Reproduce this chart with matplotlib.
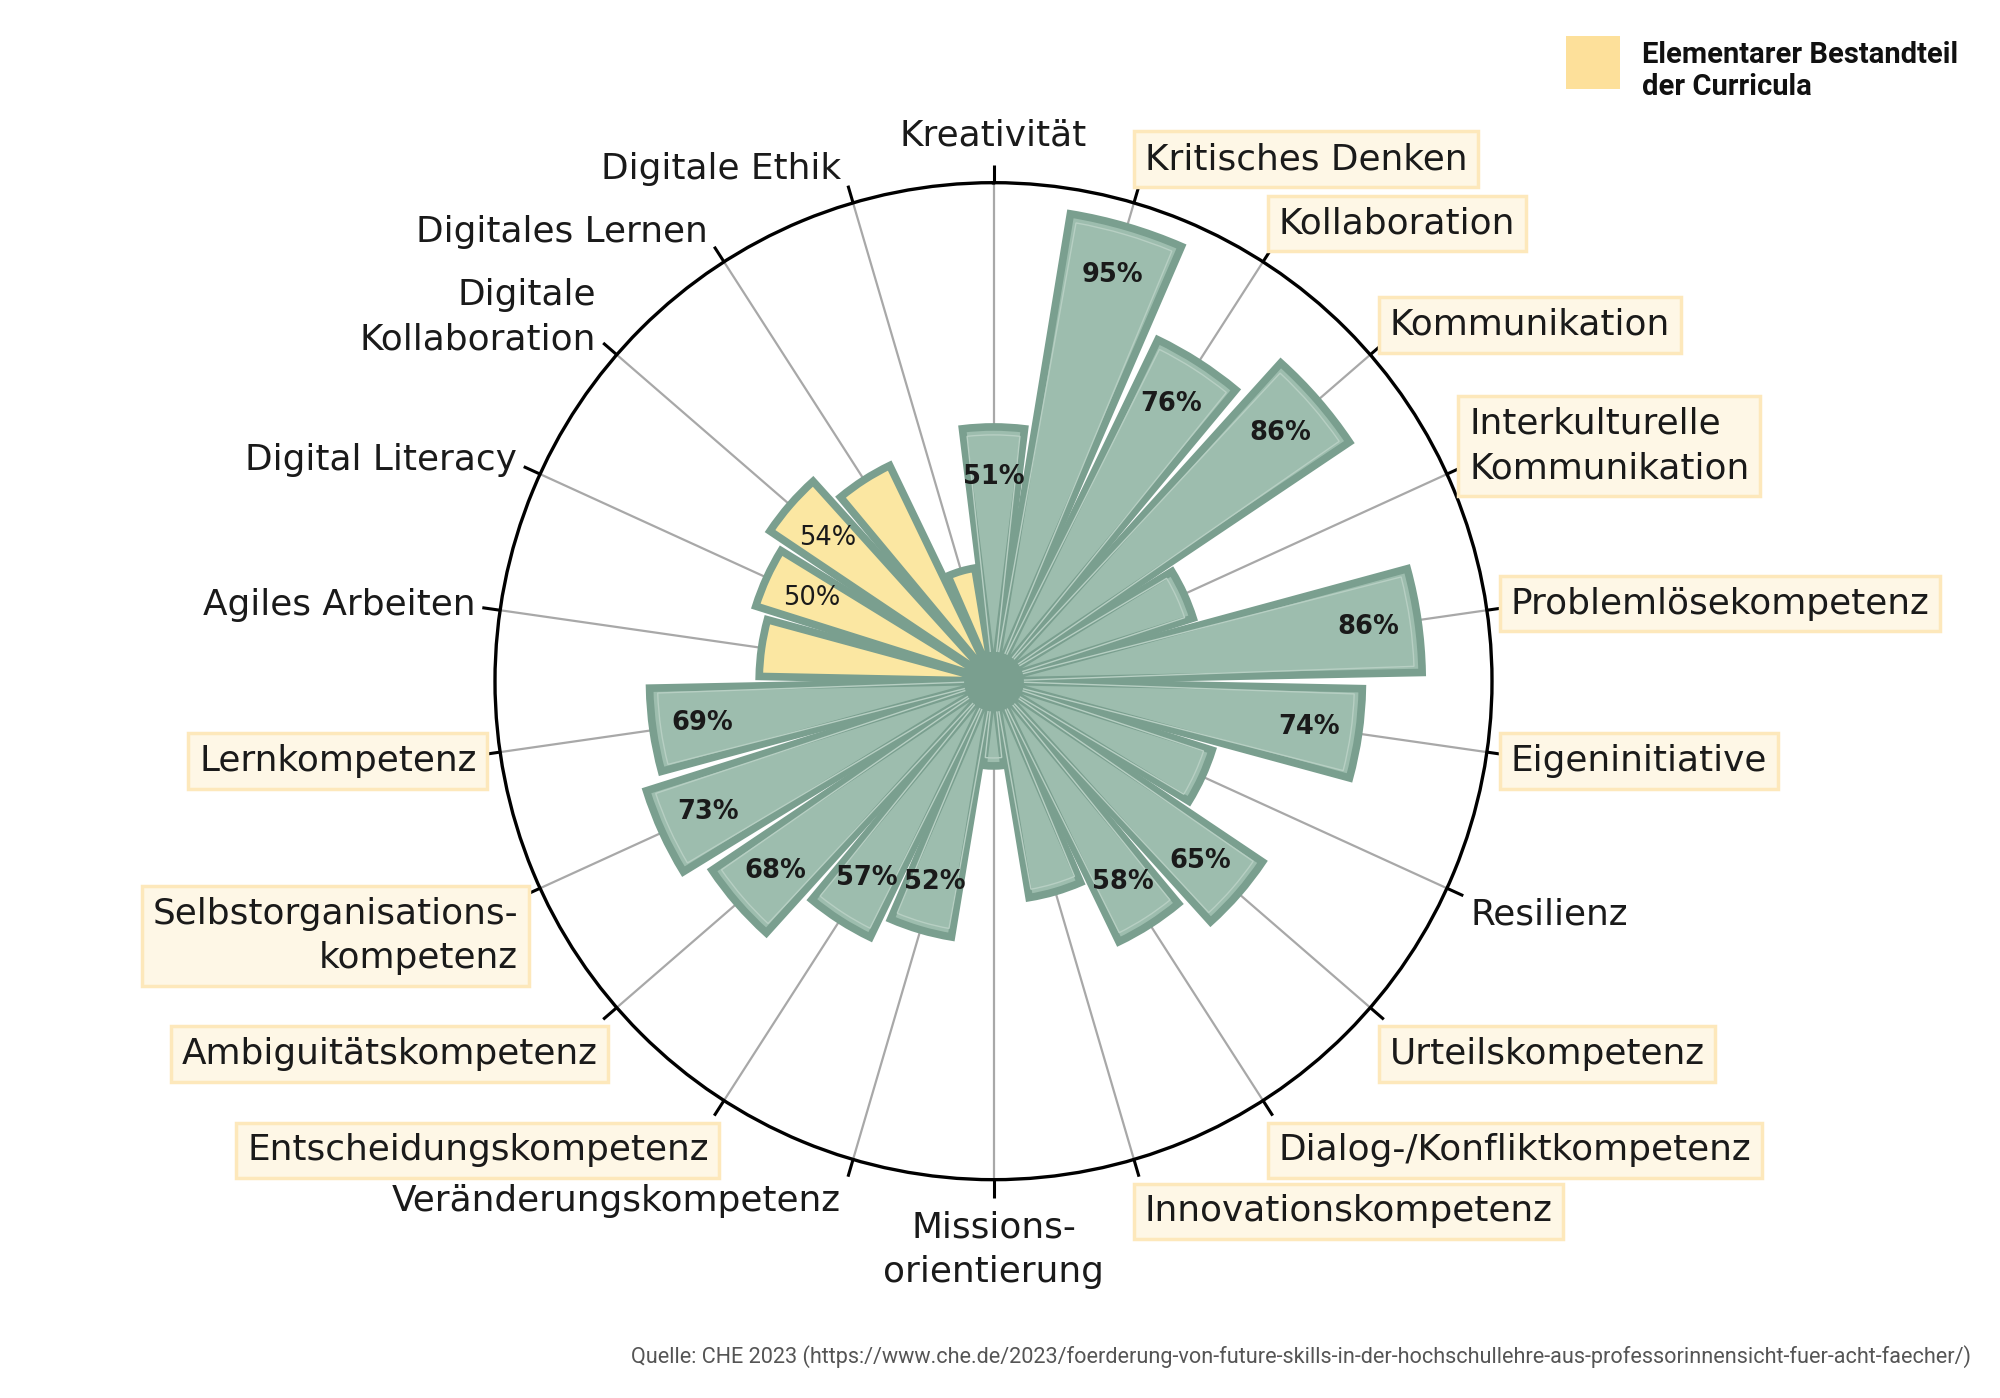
import numpy as np
import matplotlib
matplotlib.use("Agg")
import matplotlib.pyplot as plt
from matplotlib.patches import Rectangle

# ---------------- data ----------------
categories = [
    "Kreativität", "Kritisches Denken", "Kollaboration", "Kommunikation",
    "Interkulturelle\nKommunikation", "Problemlösekompetenz", "Eigeninitiative",
    "Resilienz", "Urteilskompetenz", "Dialog-/Konfliktkompetenz",
    "Innovationskompetenz", "Missions-\norientierung", "Veränderungskompetenz",
    "Entscheidungskompetenz", "Ambiguitätskompetenz",
    "Selbstorganisations-\nkompetenz", "Lernkompetenz", "Agiles Arbeiten",
    "Digital Literacy", "Digitale\nKollaboration", "Digitales Lernen",
    "Digitale Ethik",
]
values = [51, 95, 76, 86, 42, 86, 74, 46, 65, 58, 44, 17, 52, 57, 68, 73, 69,
          47, 50, 54, 48, 23]
# label highlighted as "Elementarer Bestandteil der Curricula"
curricula = [False, True, True, True, True, True, True, False, True, True,
             True, False, False, True, True, True, True, False, False, False,
             False, False]
# digital skills (yellow bars)
digital = [False] * 17 + [True] * 5

legend_lines = ["Elementarer Bestandteil", "der Curricula"]
source_text = ("Quelle: CHE 2023 (https://www.che.de/2023/foerderung-von-future-skills-"
               "in-der-hochschullehre-aus-professorinnensicht-fuer-acht-faecher/)")

# ---------------- styles ----------------
GREEN = "#9dbdae"
EDGE = "#7a9f8f"
YELLOW = "#fbe7a2"
BOX_FC = "#fef7e6"
BOX_EC = "#fde8bb"
LEG_YELLOW = "#fde09a"
TXT = "#1a1a1a"
DPI = 100

fig = plt.figure(figsize=(20, 13.98), dpi=DPI)
fig.patch.set_facecolor("white")
ax = fig.add_axes([0.2475, 0.156, 0.4985, 0.7135], projection="polar")
ax.set_theta_zero_location("N")
ax.set_theta_direction(-1)
ax.set_ylim(0, 100)
ax.set_xticks([])
ax.set_yticks([])
ax.grid(False)
ax.spines["polar"].set_linewidth(2.4)
ax.spines["polar"].set_color("black")

n = len(categories)
theta = np.arange(n) * 2 * np.pi / n

# grey radial lines
for t in theta:
    ax.plot([t, t], [0, 100], color="#a8a8a8", lw=1.6, zorder=1)

# bars
fills = [YELLOW if d else GREEN for d in digital]
bars = ax.bar(theta, values, width=0.245, bottom=0, color=fills,
              edgecolor=EDGE, linewidth=5.5, zorder=3)
for b in bars:
    b.set_joinstyle("miter")

# inner light highlight on green bars
for t, v, d in zip(theta, values, digital):
    if not d:
        hb = ax.bar(t, v - 1.6, width=0.215, bottom=0, color="none",
                    edgecolor="#b7cfc3", linewidth=1.0, zorder=4)
        hb[0].set_joinstyle("miter")

# hub
hub_t = np.linspace(0, 2 * np.pi, 200)
ax.fill_between(hub_t, 0, 6.0, color=EDGE, zorder=5, lw=0)

# percentage labels
for t, v, d in zip(theta, values, digital):
    if v >= 50:
        ax.text(t, v - 10, f"{v}%", ha="center", va="center", fontsize=18.5,
                fontweight="normal" if d else "bold", color=TXT,
                family="DejaVu Sans", zorder=6)

# black ticks outside circle + category labels
R_TICK = 103.6
anns = []
for t, cat, boxed in zip(theta, categories, curricula):
    ax.plot([t, t], [100, R_TICK], color="black", lw=2.2, clip_on=False,
            solid_capstyle="butt", zorder=6)
    s = np.sin(t)
    if abs(s) < 0.05:
        ha = "center"
    elif s > 0:
        ha = "left"
    else:
        ha = "right"
    kw = {}
    if boxed:
        kw["bbox"] = dict(boxstyle="square,pad=0.3", fc=BOX_FC, ec=BOX_EC, lw=2.5)
    a = ax.annotate(cat, xy=(t, R_TICK), xytext=(0, 0), textcoords="offset points",
                    ha=ha, va="bottom", multialignment=ha, fontsize=25.8, color=TXT,
                    family="DejaVu Sans", linespacing=1.38, annotation_clip=False,
                    zorder=7, **kw)
    anns.append((a, t, boxed, ha))

# second pass: position label boxes relative to the tick ends
fig.canvas.draw()
renderer = fig.canvas.get_renderer()
for a, t, boxed, ha in anns:
    c = np.cos(t)
    if c >= 0:
        f = (1 - c) / 2
    else:
        f = min(1.0, 0.5 - 0.8 * c)
    ext = (a.get_bbox_patch().get_window_extent(renderer) if boxed
           else a.get_window_extent(renderer))
    ax_px, ay_px = ax.transData.transform((t, R_TICK))
    gap = -5 if boxed else 7
    if ha == "left":
        sx = (ax_px + gap) - ext.x0
    elif ha == "right":
        sx = (ax_px - gap) - ext.x1
    else:
        sx = ax_px - (ext.x0 + ext.x1) / 2
    extra = 0
    if ha == "center":
        extra = 12 if c > 0 else -13
    elif c < -0.3:
        extra = -7
    sy = (ay_px - f * ext.height + extra) - ext.y0
    a.xyann = (sx * 72 / DPI, sy * 72 / DPI)

# legend
fig.patches.append(Rectangle((0.783, 0.9363), 0.027, 0.0379, transform=fig.transFigure,
                             facecolor=LEG_YELLOW, edgecolor="none"))
for line, yy in zip(legend_lines, [0.9607, 0.9378]):
    fig.text(0.821, yy, line, ha="left", va="center", fontsize=21,
             fontweight="bold", family=["Roboto", "DejaVu Sans"], color="#111111")

# source
fig.text(0.9855, 0.030, source_text, ha="right", va="center", fontsize=15.6,
         family=["Roboto", "DejaVu Sans"], color="#555555")

fig.savefig("out.png", dpi=DPI, facecolor="white")
